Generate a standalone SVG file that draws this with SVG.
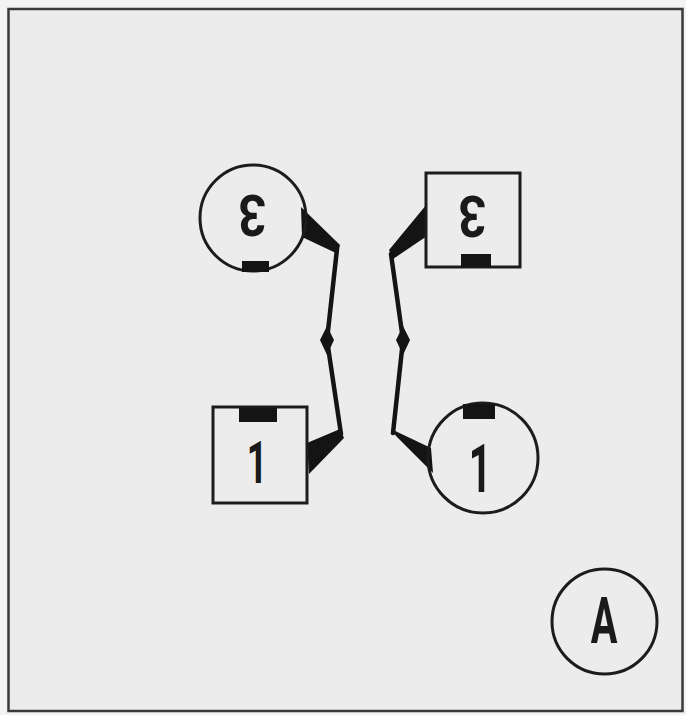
<svg xmlns="http://www.w3.org/2000/svg" width="686" height="715" viewBox="0 0 686 715">
<style>
.sh{fill:none;stroke:#1c1c1c;stroke-width:3}
.bar{fill:#141414}
.lbl{font-family:Roboto,"Liberation Sans",sans-serif;font-weight:bold;fill:#1a1a1a;text-anchor:middle}
.wire{fill:none;stroke:#141414;stroke-width:4.5;stroke-linejoin:round;stroke-linecap:round}
.wedge{fill:#141414}
</style>
<rect x="0" y="0" width="686" height="715" fill="#f3f3f3"/>
<rect x="8.5" y="9" width="674" height="702" fill="#ececec" stroke="#3a3a3a" stroke-width="2.5"/>
<g id="connectors">
  <polygon class="wedge" points="301,207 340,245 338,254 302,237"/>
  <polyline class="wire" points="337,249 327,340 341,434"/>
  <polygon class="wedge" points="327,326 334,340 327,355 320,340"/>
  <polygon class="wedge" points="340,429 344,438 309,474 307,443"/>
  <polygon class="wedge" points="427,204 427,236 393,259 389,250"/>
  <polyline class="wire" points="391,254 403,340 393,433"/>
  <polygon class="wedge" points="403,326 410,340 403,355 396,340"/>
  <polygon class="wedge" points="391,429 396,436 433,473 431,448"/>
</g>
<g id="node-circle-3">
  <circle class="sh" cx="253" cy="218" r="53"/>
  <rect class="bar" x="242" y="261" width="27" height="11"/>
  <text class="lbl" font-size="58" x="252" y="237" transform="rotate(180 252 216) translate(252 0) scale(0.85 1) translate(-252 0)">3</text>
</g>
<g id="node-box-3">
  <rect class="sh" x="426" y="173" width="94" height="94"/>
  <rect class="bar" x="461" y="254" width="30" height="13"/>
  <text class="lbl" font-size="58" x="472" y="238" transform="rotate(180 472 217) translate(472 0) scale(0.85 1) translate(-472 0)">3</text>
</g>
<g id="node-box-1">
  <rect class="sh" x="213" y="407" width="94" height="96"/>
  <rect class="bar" x="239" y="408" width="38" height="14"/>
  <text class="lbl" font-size="60" x="257" y="483" transform="translate(257 0) scale(0.6 1) translate(-257 0)">1</text>
</g>
<g id="node-circle-1">
  <circle class="sh" cx="483" cy="458" r="55"/>
  <rect class="bar" x="463" y="404" width="32" height="15"/>
  <text class="lbl" font-size="66" x="480" y="492" transform="translate(480 0) scale(0.6 1) translate(-480 0)">1</text>
</g>
<g id="node-A">
  <circle class="sh" cx="604.5" cy="621.5" r="52.5"/>
  <text class="lbl" font-size="64" x="604" y="643" transform="translate(604 0) scale(0.62 1) translate(-604 0)">A</text>
</g>
</svg>
